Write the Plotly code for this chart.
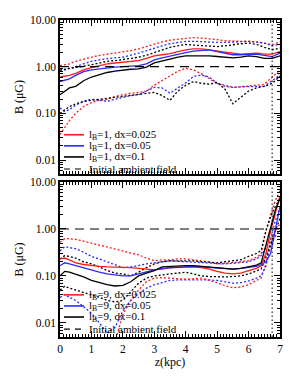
import math
import plotly.graph_objects as go

# ---------------- data ----------------
z_top = [0, 0.15, 0.3, 0.5, 0.75, 1.0, 1.25, 1.5, 1.75, 2.0, 2.25, 2.5, 2.75, 3.0, 3.25,
         3.5, 3.75, 4.0, 4.25, 4.5, 4.75, 5.0, 5.25, 5.5, 5.75, 6.0, 6.25, 6.5, 6.75, 7.0]

top_red = [0.6, 0.62, 0.65, 0.72, 0.85, 0.95, 1.05, 1.15, 1.2, 1.25, 1.3, 1.35, 1.5, 1.7, 1.8,
           1.9, 2.1, 2.3, 2.4, 2.4, 2.3, 2.15, 2.05, 1.95, 1.85, 1.9, 1.95, 1.85, 1.85, 2.1]
top_blue = [0.48, 0.52, 0.55, 0.65, 0.78, 0.85, 0.9, 0.95, 0.98, 1.0, 1.02, 1.05, 1.15, 1.4, 1.55,
            1.7, 1.85, 2.0, 2.15, 2.2, 2.3, 2.1, 1.95, 1.8, 1.8, 1.85, 1.85, 1.75, 1.65, 1.95]
top_black = [0.25, 0.3, 0.35, 0.38, 0.5, 0.6, 0.68, 0.75, 0.8, 0.85, 0.88, 0.9, 0.98, 1.2, 1.3,
             1.45, 1.6, 1.7, 1.7, 1.72, 1.7, 1.65, 1.6, 1.55, 1.6, 1.7, 1.65, 1.5, 1.5, 1.7]

top_red_hi = [1.05, 1.1, 1.15, 1.3, 1.45, 1.6, 1.75, 1.85, 1.95, 2.1, 2.2, 2.4, 2.7, 3.1, 3.4,
              3.7, 3.9, 4.1, 4.2, 4.1, 4.0, 3.8, 3.6, 3.5, 3.5, 3.5, 3.4, 3.2, 2.95, 3.4]
top_blue_hi = [0.8, 0.85, 0.9, 1.0, 1.15, 1.3, 1.4, 1.5, 1.55, 1.6, 1.75, 1.95, 2.2, 2.5, 2.8,
               3.1, 3.3, 3.5, 3.5, 3.4, 3.3, 3.3, 3.3, 3.4, 3.5, 3.5, 3.4, 3.2, 2.8, 3.0]
top_black_hi = [0.85, 0.88, 0.9, 0.95, 1.02, 1.1, 1.2, 1.3, 1.35, 1.4, 1.5, 1.6, 1.75, 2.0, 2.3,
                2.6, 2.8, 3.0, 2.9, 2.8, 2.7, 2.7, 2.8, 3.0, 3.1, 3.2, 3.0, 2.6, 2.3, 2.5]

top_red_lo = [0.035, 0.05, 0.07, 0.1, 0.14, 0.17, 0.19, 0.2, 0.23, 0.25, 0.27, 0.28, 0.3, 0.4, 0.5,
              0.65, 0.8, 0.92, 0.85, 0.7, 0.55, 0.44, 0.4, 0.36, 0.37, 0.38, 0.4, 0.42, 0.6, 0.85]
top_blue_lo = [0.13, 0.11, 0.12, 0.15, 0.18, 0.2, 0.19, 0.18, 0.2, 0.22, 0.24, 0.25, 0.3, 0.36, 0.35,
               0.27, 0.35, 0.45, 0.62, 0.66, 0.6, 0.44, 0.38, 0.36, 0.37, 0.37, 0.37, 0.38, 0.5, 0.66]
top_black_lo = [0.1, 0.12, 0.14, 0.16, 0.18, 0.19, 0.2, 0.21, 0.22, 0.23, 0.24, 0.25, 0.27, 0.28, 0.24,
                0.19, 0.3, 0.4, 0.48, 0.44, 0.42, 0.46, 0.33, 0.16, 0.22, 0.3, 0.35, 0.38, 0.44, 0.62]

z_bot = [0, 0.15, 0.3, 0.5, 0.75, 1.0, 1.25, 1.5, 1.75, 2.0, 2.25, 2.5, 2.75, 3.0, 3.25, 3.5,
         3.75, 4.0, 4.25, 4.5, 4.75, 5.0, 5.25, 5.5, 5.75, 6.0, 6.25, 6.4, 6.55, 6.7, 6.85, 7.0]

bot_red = [0.23, 0.24, 0.22, 0.19, 0.175, 0.165, 0.16, 0.155, 0.155, 0.15, 0.15, 0.145, 0.14, 0.135, 0.14, 0.15,
           0.152, 0.155, 0.155, 0.15, 0.14, 0.125, 0.115, 0.11, 0.115, 0.13, 0.145, 0.165, 0.3, 0.9, 2.2, 5.0]
bot_blue = [0.165, 0.19, 0.18, 0.165, 0.145, 0.13, 0.12, 0.11, 0.105, 0.1, 0.1, 0.11, 0.125, 0.135, 0.145, 0.15,
            0.155, 0.155, 0.16, 0.155, 0.15, 0.145, 0.14, 0.14, 0.145, 0.15, 0.16, 0.175, 0.2, 0.3, 0.9, 3.0]
bot_black = [0.1, 0.125, 0.12, 0.11, 0.095, 0.08, 0.072, 0.065, 0.061, 0.063, 0.075, 0.1, 0.115, 0.13, 0.155, 0.16,
             0.165, 0.165, 0.165, 0.16, 0.155, 0.15, 0.145, 0.14, 0.145, 0.155, 0.17, 0.19, 0.45, 1.1, 2.5, 4.5]

bot_red_hi = [0.52, 0.62, 0.62, 0.6, 0.55, 0.5, 0.45, 0.4, 0.37, 0.34, 0.31, 0.28, 0.24, 0.21, 0.22, 0.22,
              0.23, 0.23, 0.22, 0.21, 0.2, 0.18, 0.185, 0.19, 0.2, 0.21, 0.25, 0.29, 0.9, 2.0, 4.0, 6.6]
bot_blue_hi = [0.34, 0.42, 0.4, 0.38, 0.32, 0.26, 0.23, 0.2, 0.17, 0.15, 0.155, 0.17, 0.18, 0.19, 0.2, 0.21,
               0.205, 0.2, 0.2, 0.19, 0.185, 0.18, 0.18, 0.185, 0.19, 0.2, 0.23, 0.27, 0.4, 0.6, 1.5, 2.8]
bot_black_hi = [0.23, 0.27, 0.26, 0.24, 0.2, 0.18, 0.155, 0.13, 0.115, 0.11, 0.1, 0.12, 0.15, 0.18, 0.2, 0.21,
                0.21, 0.21, 0.21, 0.2, 0.195, 0.19, 0.2, 0.21, 0.22, 0.26, 0.3, 0.35, 0.9, 1.8, 3.0, 4.5]

bot_red_lo = [0.003, 0.003, 0.003, 0.003, 0.003, 0.003, 0.003, 0.003, 0.004, 0.015, 0.03, 0.05, 0.075, 0.09, 0.092, 0.09,
              0.088, 0.085, 0.087, 0.09, 0.08, 0.072, 0.062, 0.056, 0.058, 0.065, 0.08, 0.09, 0.18, 0.6, 0.9, 1.3]
bot_blue_lo = [0.035, 0.04, 0.035, 0.03, 0.022, 0.016, 0.01, 0.006, 0.008, 0.018, 0.03, 0.042, 0.055, 0.065, 0.072, 0.08,
               0.082, 0.082, 0.084, 0.085, 0.082, 0.08, 0.075, 0.07, 0.072, 0.078, 0.09, 0.1, 0.16, 0.45, 0.7, 0.96]
bot_black_lo = [0.05, 0.06, 0.055, 0.05, 0.045, 0.04, 0.035, 0.03, 0.028, 0.03, 0.045, 0.07, 0.09, 0.1, 0.105, 0.11,
                0.115, 0.12, 0.11, 0.1, 0.097, 0.095, 0.095, 0.097, 0.1, 0.11, 0.125, 0.14, 0.25, 0.5, 0.9, 1.7]

ambient_field = 1.0
z_marker = 6.75
z_range = [0, 7]
b_range = [0.005, 10]

ytick_vals = [0.01, 0.1, 1, 10]
ytick_text = ["0.01", "0.10", "1.00", "10.00"]
xtick_vals = [0, 1, 2, 3, 4, 5, 6, 7]

top_labels = ["l<sub>B</sub>=1, dx=0.025", "l<sub>B</sub>=1, dx=0.05", "l<sub>B</sub>=1, dx=0.1",
              "Initial ambient field"]
bot_labels = ["l<sub>B</sub>=9, dx=0.025", "l<sub>B</sub>=9, dx=0.05", "l<sub>B</sub>=9, dx=0.1",
              "Initial ambient field"]

# ---------------- style ----------------
RED = "#ff1a1a"
BLUE = "#2a2aff"
BLACK = "#000000"
FONT = "Liberation Serif"
DOT = "2px,2px"

fig = go.Figure()


def add_panel(z, solids, his, los, xa, ya):
    cols = [RED, BLUE, BLACK]
    for s, c in zip(his, cols):
        fig.add_trace(go.Scatter(x=z, y=s, mode="lines", line=dict(color=c, width=1.3, dash=DOT),
                                 xaxis=xa, yaxis=ya, showlegend=False))
    for s, c in zip(los, cols):
        fig.add_trace(go.Scatter(x=z, y=s, mode="lines", line=dict(color=c, width=1.3, dash=DOT),
                                 xaxis=xa, yaxis=ya, showlegend=False))
    for s, c in zip(solids, cols):
        fig.add_trace(go.Scatter(x=z, y=s, mode="lines", line=dict(color=c, width=1.3),
                                 xaxis=xa, yaxis=ya, showlegend=False))
    fig.add_trace(go.Scatter(x=z_range, y=[ambient_field, ambient_field], mode="lines",
                             line=dict(color=BLACK, width=1.1, dash="9px,6px"),
                             xaxis=xa, yaxis=ya, showlegend=False))
    fig.add_trace(go.Scatter(x=[z_marker, z_marker], y=b_range, mode="lines",
                             line=dict(color=BLACK, width=1, dash="1.5px,2.5px"),
                             xaxis=xa, yaxis=ya, showlegend=False))


add_panel(z_top, [top_red, top_blue, top_black], [top_red_hi, top_blue_hi, top_black_hi],
          [top_red_lo, top_blue_lo, top_black_lo], "x2", "y2")
add_panel(z_bot, [bot_red, bot_blue, bot_black], [bot_red_hi, bot_blue_hi, bot_black_hi],
          [bot_red_lo, bot_blue_lo, bot_black_lo], "x", "y")

# minor log ticks
minor_y = []
for e in range(-3, 1):
    for k in range(2, 10):
        v = k * 10 ** e
        if b_range[0] <= v <= b_range[1]:
            minor_y.append(v)

axis_common = dict(showline=True, linecolor="black", linewidth=1.6, mirror="allticks",
                   ticks="inside", ticklen=6, tickwidth=1, tickcolor="black",
                   showgrid=False, zeroline=False, automargin=False)

xax = dict(axis_common, range=z_range, tickvals=xtick_vals,
           minor=dict(dtick=0.1, ticks="inside", ticklen=3, tickcolor="black", showgrid=False))
yax = dict(axis_common, type="log", range=[math.log10(b_range[0]), math.log10(b_range[1])],
           tickvals=ytick_vals, ticktext=ytick_text, tickfont=dict(size=11.5),
           minor=dict(tickvals=minor_y, ticks="inside", ticklen=3, tickcolor="black", showgrid=False),
           title=dict(text="B (\u03bcG)", standoff=4, font=dict(size=12)))

fig.update_layout(
    width=299, height=376,
    margin=dict(l=60, r=19, t=20, b=39),
    paper_bgcolor="white", plot_bgcolor="white",
    showlegend=False,
    font=dict(family=FONT, size=11.5, color="black"),
    xaxis=dict(xax, anchor="y", domain=[0, 1],
               title=dict(text="z(kpc)", standoff=2, font=dict(size=12))),
    xaxis2=dict(xax, anchor="y2", domain=[0, 1], matches="x", showticklabels=False),
    yaxis=dict(yax, anchor="x", domain=[0, 0.489]),
    yaxis2=dict(yax, anchor="x2", domain=[0.514, 1]),
)


# legends (drawn as annotations + key lines, in paper coordinates)
def add_legend(labels, rows_y):
    styles = [(RED, None, 1.6), (BLUE, None, 1.6), (BLACK, None, 1.6), (BLACK, "6px,5px", 1.1)]
    for lab, yy, (c, d, w) in zip(labels, rows_y, styles):
        fig.add_shape(type="line", xref="paper", yref="paper", x0=0.018, x1=0.109, y0=yy, y1=yy,
                      line=dict(color=c, width=w, dash=d))
        fig.add_annotation(text=lab, xref="paper", yref="paper", x=0.125, y=yy, xanchor="left",
                           yanchor="middle", showarrow=False, borderpad=0,
                           font=dict(size=11, family=FONT))


add_legend(top_labels, [0.638, 0.603, 0.568, 0.530])
add_legend(bot_labels, [0.133, 0.098, 0.063, 0.025])

fig.write_html("out.html", post_script="document.body.style.margin='0';",
               config={"displayModeBar": False})
